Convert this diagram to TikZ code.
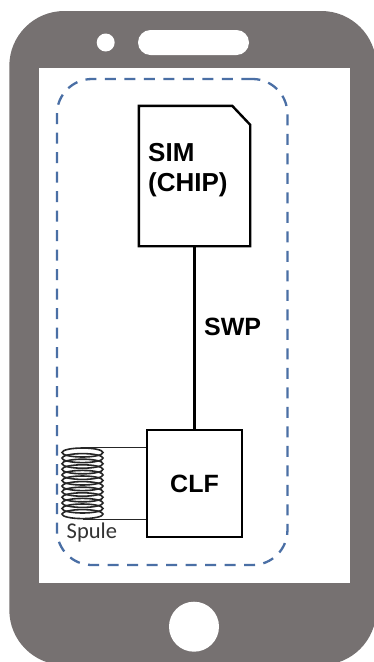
\documentclass[tikz,border=0pt]{standalone}
\usepackage{fontspec}
\setmainfont{Liberation Sans}
\newfontfamily\spulefont{Carlito}
\usepackage{xcolor}
\usepackage{tikz}
\usetikzlibrary{arrows.meta,positioning,calc,shapes.misc,shapes.geometric}
\definecolor{phonegrey}{HTML}{767171}
\definecolor{dashblue}{HTML}{4A6FA5}

\begin{document}
\begin{tikzpicture}[
  x=1pt, y=-1pt,
  phone/.style={fill=phonegrey, rounded corners=55pt, inner sep=0pt, minimum width=367pt, minimum height=654pt},
  screen/.style={fill=white, inner sep=0pt, minimum width=311.6pt, minimum height=515pt},
  bound/.style={draw=dashblue, line width=2.3pt, dash pattern=on 11pt off 8.5pt, rounded corners=35pt, inner sep=0pt, minimum width=230.5pt, minimum height=486pt},
  simcard/.style={inner sep=0pt, minimum width=111pt, minimum height=140pt},
  outline/.style={line width=2.4pt},
  clfbox/.style={draw, outline, inner sep=0pt, minimum width=95pt, minimum height=107pt, font=\fontsize{25}{29}\bfseries},
  lbl/.style={font=\fontsize{26}{30}\bfseries, align=left, inner sep=0pt},
  wire/.style={line width=1.3pt, draw=black!85},
  turn/.style={draw=black!85, line width=1.6pt, ellipse, inner sep=0pt, minimum width=41pt, minimum height=9pt}
]
  % Phone body
  \useasboundingbox (0,0) rectangle (374,662);
  \fill[white] (0,0) rectangle (374,662);
  \node[phone] (body) at (192.8,338) {};
  \node[screen] (scr) at (194.4,325.2) {};
  \node[circle, fill=white, inner sep=0pt, minimum size=18pt] (cam) at (105.7,42.5) {};
  \node[rounded rectangle, fill=white, inner sep=0pt, minimum width=111pt, minimum height=25pt] (speaker) at (193.5,42.5) {};
  \node[circle, fill=white, inner sep=0pt, minimum size=50pt] (home) at (194,626.7) {};

  % Dashed outline
  \node[bound] (nfc) at (172.2,322) {};

  % SIM and CLF
  \node[simcard] (sim) at (194.5,176) {};
  \draw[outline] (sim.north west) -- ($(sim.north east)+(-18,0)$) -- ($(sim.north east)+(0,19)$)
    -- (sim.south east) -- (sim.south west) -- cycle;
  \node[lbl, anchor=north west] (simlabel) at (148,143.5) {SIM\\(CHIP)};
  \node[clfbox] (clf) at (194.5,483.5) {CLF};
  \draw[wire, line width=2.2pt, draw=black] (sim) -- (clf);
  \node[lbl, font=\fontsize{25}{29}\bfseries, anchor=west] (swp) at (204,327) {SWP};

  % Coil
  \foreach \i in {0,...,11}
    \node[turn] (t\i) at (82.5,452.5+\i*5.6) {};
  \draw[wire] (t0.north) -- (t0.north -| clf.west);
  \draw[wire] (t11.south) -- (t11.south -| clf.west);
  \node[font=\fontsize{22.5}{26}\spulefont, text=black!80, inner sep=0pt, anchor=west] (spule) at (66.5,532) {Spule};
\end{tikzpicture}
\end{document}
